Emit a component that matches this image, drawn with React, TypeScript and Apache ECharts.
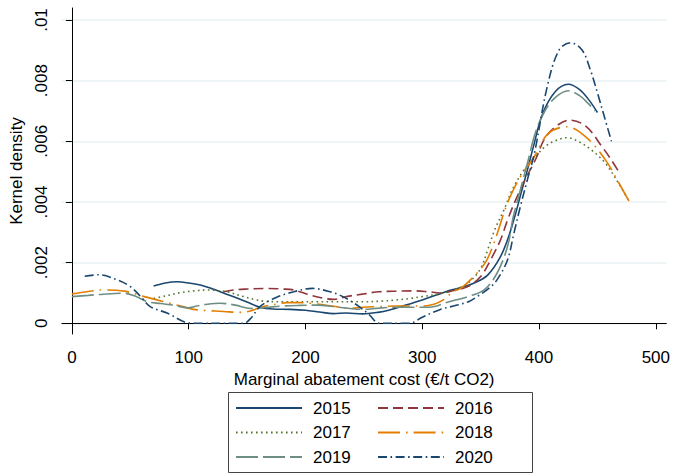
import React, { useEffect, useRef } from "react";
import * as echarts from "echarts";

// Kernel density estimates, [marginal abatement cost (€/t CO2), density]
const d2015: [number, number][] = [
  [70, 0.00123], [80, 0.00133], [90, 0.00137], [100, 0.00133], [110, 0.00126], [120, 0.00114],
  [127, 0.00104], [138, 0.00088], [150, 0.0007], [161, 0.00053], [172, 0.00047], [187, 0.00046],
  [200, 0.00043], [212, 0.00037], [224, 0.00032], [235, 0.00034], [249, 0.00031], [262, 0.00036],
  [272, 0.00044], [286, 0.0006], [300, 0.00077], [312, 0.00093], [323, 0.00108], [335, 0.0012],
  [344, 0.00132], [356, 0.00159], [367, 0.0022], [374, 0.00286], [380, 0.00363], [385, 0.00435],
  [390, 0.00505], [395, 0.0058], [403, 0.0069], [414, 0.00764], [425, 0.00788], [435, 0.0077],
  [443, 0.00735], [450, 0.00695],
];
const d2016: [number, number][] = [
  [130, 0.00104], [138, 0.0011], [150, 0.00113], [167, 0.00115], [180, 0.00113], [190, 0.0011],
  [204, 0.00093], [215, 0.00083], [224, 0.00079], [235, 0.00088], [250, 0.00097], [263, 0.00104],
  [280, 0.00106], [292, 0.00107], [305, 0.00104], [315, 0.001], [327, 0.00108], [339, 0.00121],
  [350, 0.00154], [360, 0.0022], [367, 0.00275], [373, 0.0034], [380, 0.00407], [388, 0.00473],
  [397, 0.0054], [405, 0.0061], [414, 0.00648], [426, 0.0067], [440, 0.0065], [454, 0.00582],
  [462, 0.00538], [469, 0.00495],
];
const d2017: [number, number][] = [
  [70, 0.00082], [80, 0.0009], [93, 0.00101], [105, 0.00107], [116, 0.0011], [125, 0.00108],
  [133, 0.00104], [147, 0.00088], [157, 0.00078], [167, 0.00072], [180, 0.00071], [195, 0.00071],
  [210, 0.00071], [224, 0.00071], [249, 0.00071], [265, 0.00073], [278, 0.00077], [290, 0.00082],
  [300, 0.00088], [317, 0.00099], [327, 0.0011], [339, 0.00132], [350, 0.00181], [356, 0.00242],
  [362, 0.00308], [370, 0.00374], [377, 0.0044], [387, 0.00505], [396, 0.00545], [405, 0.00582],
  [414, 0.00602], [424, 0.00612], [434, 0.00599], [445, 0.00571], [457, 0.00527], [468, 0.00462],
  [477, 0.00403],
];
const d2018: [number, number][] = [
  [0, 0.00097], [14, 0.00105], [27, 0.0011], [45, 0.00106], [62, 0.00088], [72, 0.00078],
  [84, 0.00066], [95, 0.00055], [104, 0.00046], [115, 0.00042], [130, 0.00039], [144, 0.00036],
  [152, 0.0004], [164, 0.00055], [175, 0.00063], [184, 0.00068], [195, 0.00068], [204, 0.00066],
  [214, 0.00062], [224, 0.00056], [238, 0.00049], [249, 0.00053], [263, 0.00055], [278, 0.00057],
  [300, 0.00057], [310, 0.00063], [318, 0.00077], [327, 0.00106], [333, 0.00115], [344, 0.00154],
  [354, 0.002], [360, 0.0025], [365, 0.00305], [370, 0.00365], [375, 0.00415], [384, 0.00483],
  [396, 0.0055], [408, 0.00626], [424, 0.00648], [440, 0.00615], [457, 0.00538], [468, 0.00465],
  [477, 0.00403],
];
const d2019: [number, number][] = [
  [0, 0.00088], [14, 0.00092], [27, 0.00096], [45, 0.00099], [55, 0.00088], [65, 0.00071],
  [76, 0.00065], [87, 0.0006], [99, 0.00051], [108, 0.00058], [116, 0.00063], [127, 0.00066],
  [140, 0.0006], [153, 0.00049], [165, 0.00052], [181, 0.00057], [195, 0.00059], [210, 0.0006],
  [224, 0.00055], [238, 0.00049], [249, 0.00046], [263, 0.0005], [278, 0.00053], [292, 0.00053],
  [306, 0.00053], [323, 0.00071], [339, 0.00088], [353, 0.0011], [364, 0.00165], [373, 0.00253],
  [378, 0.00352], [384, 0.0044], [390, 0.00527], [397, 0.0063], [405, 0.007], [414, 0.00745],
  [425, 0.00767], [435, 0.0075], [442, 0.00725], [448, 0.007],
];
const d2020: [number, number][] = [
  [11, 0.00155], [23, 0.0016], [39, 0.00143], [50, 0.00121], [59, 0.00088], [67, 0.00055],
  [82, 0.00033], [96, 0.00005], [104, 0], [147, 0], [154, 0.0002], [161, 0.00055], [175, 0.00085],
  [190, 0.00104], [206, 0.00115], [221, 0.00104], [232, 0.00088], [246, 0.00055], [255, 0.00027],
  [263, 0], [289, 0], [300, 0.0002], [315, 0.00045], [330, 0.0006], [340, 0.00072], [347, 0.00088],
  [357, 0.00115], [364, 0.00143], [373, 0.00209], [378.5, 0.00297], [384, 0.00385], [390, 0.00473],
  [396, 0.0056], [407, 0.0078], [417, 0.009], [427, 0.00925], [437, 0.009], [444, 0.00835],
  [450, 0.0076], [456, 0.0068], [462, 0.006],
];

const years = ["2015", "2016", "2017", "2018", "2019", "2020"];
const yTicks = [0, 0.002, 0.004, 0.006, 0.008, 0.01];
const xTicks = [0, 100, 200, 300, 400, 500];

const FONT = "'Liberation Sans', Arial, sans-serif";

export default function App() {
  const ref = useRef<HTMLDivElement>(null);
  useEffect(() => {
    if (!ref.current) return;
    const chart = echarts.init(ref.current, undefined, { renderer: "svg" });
    const datasets = [d2015, d2016, d2017, d2018, d2019, d2020];
    const colors = ["#1a476f", "#90353b", "#55752f", "#e37e00", "#6e8e84", "#1a476f"];
    const dashes: any[] = ["solid", [10, 5], [1.6, 3.4], [22, 6, 1.6, 6], [22, 5], [9, 3.5, 1.6, 3.5]];
    const series = datasets.map((d, i) => ({
      name: years[i],
      type: "line",
      data: d,
      smooth: 0.35,
      symbol: "none",
      showSymbol: false,
      lineStyle: { color: colors[i], width: 1.6, type: dashes[i] },
      itemStyle: { color: colors[i] },
      z: 3,
    }));
    const legendCommon = {
      orient: "vertical",
      top: 399.5,
      padding: 0,
      itemWidth: 66,
      itemHeight: 17,
      itemGap: 7.5,
      itemStyle: { opacity: 0, borderWidth: 0 },
      textStyle: {
        fontFamily: FONT,
        fontSize: 17,
        color: "#000",
        lineHeight: 17,
        padding: [0, 0, 0, 6],
      },
    };
    chart.setOption({
      animation: false,
      backgroundColor: "#fff",
      textStyle: { fontFamily: FONT },
      grid: { left: 61, right: 5, top: 8, bottom: 139, containLabel: false },
      xAxis: {
        type: "value",
        min: -8.53,
        max: 509,
        name: "Marginal abatement cost (€/t CO2)",
        nameLocation: "middle",
        nameGap: 36,
        nameTextStyle: { fontFamily: FONT, fontSize: 17, color: "#000" },
        axisLine: { show: true, lineStyle: { color: "#000", width: 1 } },
        axisTick: { show: true, length: 6, customValues: xTicks, lineStyle: { color: "#000" } },
        axisLabel: {
          customValues: xTicks,
          margin: 15,
          fontFamily: FONT,
          fontSize: 17,
          color: "#000",
        },
        splitLine: { show: false },
      },
      yAxis: {
        type: "value",
        min: -0.000353,
        max: 0.010396,
        name: "Kernel density",
        nameLocation: "middle",
        nameGap: 31,
        nameTextStyle: { fontFamily: FONT, fontSize: 17, color: "#000" },
        axisLine: { show: true, lineStyle: { color: "#000", width: 1 } },
        axisTick: { show: true, length: 6, customValues: yTicks, lineStyle: { color: "#000" } },
        axisLabel: {
          customValues: yTicks,
          rotate: 90,
          margin: 12,
          fontFamily: FONT,
          fontSize: 17,
          color: "#000",
          formatter: (v: number) => {
            if (Math.abs(v) < 1e-9) return "0";
            return parseFloat(v.toFixed(4)).toString().replace(/^0\./, ".");
          },
        },
        splitLine: { show: true, lineStyle: { color: "#eaf2f3", width: 1.5 } },
      },
      legend: [
        { ...legendCommon, left: 235, data: ["2015", "2017", "2019"] },
        { ...legendCommon, left: 377, data: ["2016", "2018", "2020"] },
      ],
      graphic: [
        {
          type: "rect",
          left: 228,
          top: 392,
          shape: { width: 304, height: 80 },
          style: { fill: "#fff", stroke: "#444", lineWidth: 1 },
          z: -1,
        },
      ],
      series,
    });
    return () => chart.dispose();
  }, []);
  return <div ref={ref} style={{ width: 673, height: 473, position: "absolute", left: 0, top: 0 }} />;
}
